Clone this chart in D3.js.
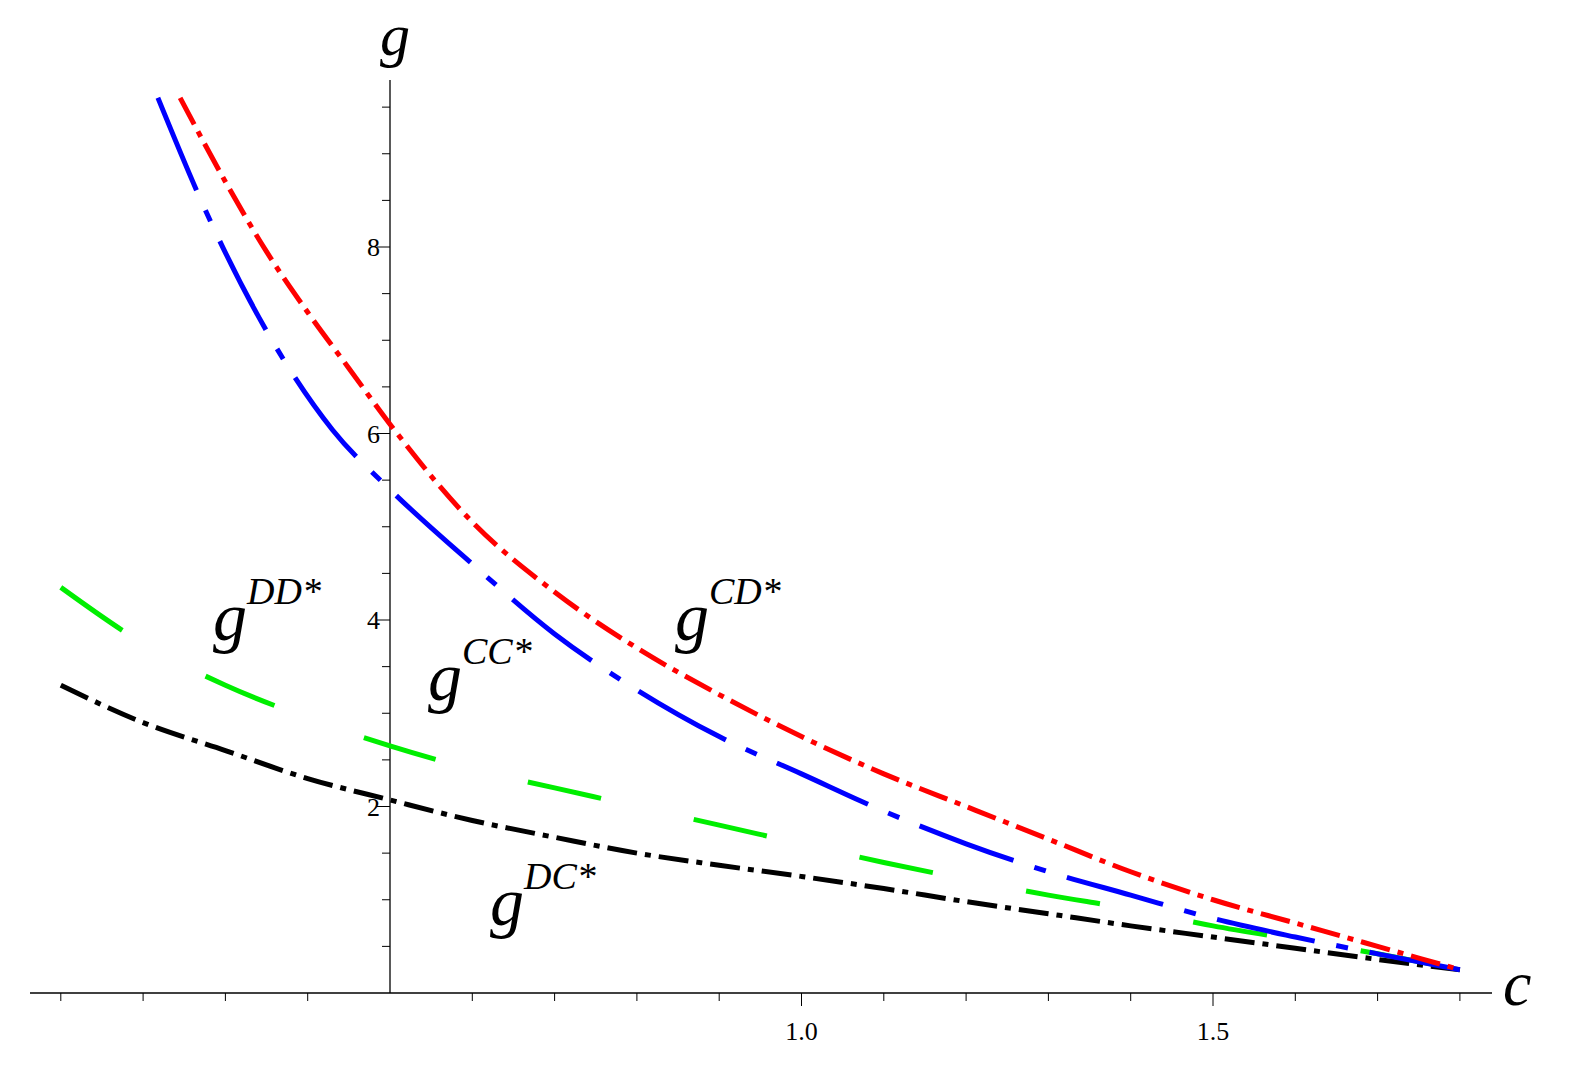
<!DOCTYPE html>
<html><head><meta charset="utf-8">
<script src="https://cdn.jsdelivr.net/npm/d3@7"></script>
<style>body{margin:0;background:#fff}text{font-family:"Liberation Serif",serif}</style>
</head><body><svg id="c" width="1592" height="1081"></svg>
<script>
const redC=[0.245,0.3,0.35,0.4,0.45,0.5,0.6,0.7,0.8,0.9,1.0,1.1,1.2,1.3,1.4,1.5,1.6,1.7,1.8];
const redG=[9.6,8.7,7.95,7.3,6.7,6.1,5.05,4.3,3.7,3.2,2.75,2.35,2.0,1.65,1.3,1.0,0.75,0.5,0.25];
const blueC=[0.218,0.277,0.35,0.43,0.5,0.6,0.7,0.8,0.9,1.0,1.1,1.2,1.3,1.4,1.5,1.6,1.7,1.8];
const blueG=[9.6,8.37,7.1,6.04,5.4,4.6,3.85,3.25,2.75,2.35,1.95,1.6,1.3,1.05,0.8,0.6,0.42,0.25];
const grnC=[0.1,0.2,0.3,0.4,0.5,0.6,0.7,0.8,0.9,1.0,1.1,1.2,1.3,1.4,1.5,1.6,1.7,1.8];
const grnG=[4.35,3.75,3.3,2.95,2.65,2.4,2.2,2.0,1.8,1.6,1.4,1.22,1.05,0.9,0.72,0.57,0.42,0.25];
const blkC=[0.1,0.2,0.3,0.4,0.5,0.6,0.7,0.8,0.9,1.0,1.1,1.2,1.3,1.4,1.5,1.6,1.7,1.8];
const blkG=[3.3,2.9,2.6,2.3,2.07,1.85,1.67,1.5,1.37,1.25,1.12,0.98,0.85,0.72,0.6,0.48,0.36,0.25];
const xTickLabels=[1.0,1.5];
const yTickLabels=[2,4,6,8];

const svg=d3.select("#c");
const x=d3.scaleLinear().domain([0.5,1.5]).range([390,1213]);
const y=d3.scaleLinear().domain([0,8]).range([993,247]);
svg.append("line").attr("x1",30).attr("x2",1492).attr("y1",y(0)).attr("y2",y(0)).attr("stroke","#000").attr("stroke-width",1.3);
svg.append("line").attr("x1",x(0.5)).attr("x2",x(0.5)).attr("y1",993).attr("y2",80).attr("stroke","#000").attr("stroke-width",1.3);
d3.range(1,19).forEach(i=>{const v=i/10; if(Math.abs(v-0.5)<1e-9)return;
  const maj=xTickLabels.some(t=>Math.abs(t-v)<1e-9);
  svg.append("line").attr("x1",x(v)).attr("x2",x(v)).attr("y1",y(0)).attr("y2",y(0)+(maj?13:8)).attr("stroke","#000");});
xTickLabels.forEach(v=>svg.append("text").attr("x",x(v)).attr("y",1040).attr("text-anchor","middle").attr("font-size",26).text(v.toFixed(1)));
d3.range(1,20).forEach(i=>{const v=i/2;
  const maj=yTickLabels.includes(v);
  svg.append("line").attr("x1",x(0.5)).attr("x2",x(0.5)-(maj?13:8)).attr("y1",y(v)).attr("y2",y(v)).attr("stroke","#000");});
yTickLabels.forEach(v=>svg.append("text").attr("x",x(0.5)-10).attr("y",y(v)+9).attr("text-anchor","end").attr("font-size",26).text(v));
svg.append("text").attr("x",380).attr("y",55).attr("font-size",60).attr("font-style","italic").text("g");
svg.append("text").attr("x",1503).attr("y",1005).attr("font-size",64).attr("font-style","italic").text("c");

const line=d3.line().curve(d3.curveMonotoneX).x(d=>x(d[0])).y(d=>y(d[1]));
function draw(cs,gs,col,dash){svg.append("path").attr("d",line(cs.map((c,i)=>[c,gs[i]]))).attr("fill","none")
  .attr("stroke",col).attr("stroke-width",5).attr("stroke-dasharray",dash);}
draw(grnC,grnG,"#00ee00","75 95");
draw(blkC,blkG,"#000","30 8 6 8");
draw(blueC,blueG,"#0000ff","100 22 12 22");
draw(redC,redG,"#ff0000","30 8 6 8");

function lab(px,py,sup){const t=svg.append("text").attr("x",px).attr("y",py).attr("font-style","italic").attr("font-size",68);
  t.append("tspan").text("g"); t.append("tspan").attr("font-size",38).attr("dy",-36).text(sup);}
lab(213,640,"DD*");
lab(428,700,"CC*");
lab(675,640,"CD*");
lab(490,925,"DC*");
</script></body></html>
